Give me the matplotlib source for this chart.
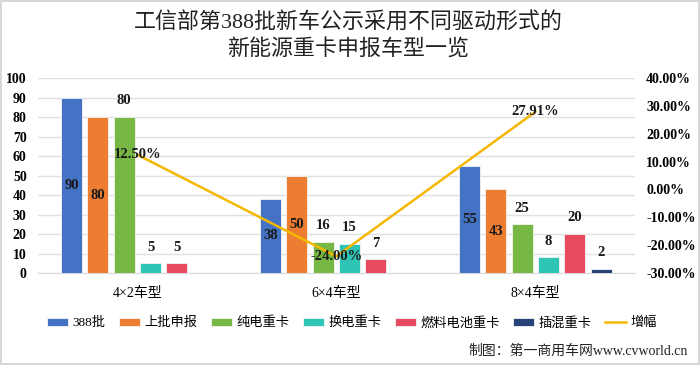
import matplotlib
matplotlib.use("Agg")
import matplotlib.pyplot as plt
import numpy as np
from matplotlib.patches import Patch
from matplotlib.lines import Line2D

plt.rcParams['font.family'] = ['Liberation Serif', 'Noto Sans CJK SC', 'DejaVu Sans']

# data
categories = ['4×2车型', '6×4车型', '8×4车型']
series_names = ['388批', '上批申报', '纯电重卡', '换电重卡', '燃料电池重卡', '插混重卡']
batch_388 = [90, 38, 55]
last_batch = [80, 50, 43]
pure_ev = [80, 16, 25]
swap_ev = [5, 15, 8]
fuel_cell = [5, 7, 20]
plugin_hybrid = [0, 0, 2]
growth = [12.50, -24.00, 27.91]
growth_name = '增幅'

colors = ['#4472C4', '#ED7D31', '#76B843', '#2EC4B6', '#E84A5F', '#264478']
line_color = '#F5B800'
series = [batch_388, last_batch, pure_ev, swap_ev, fuel_cell, plugin_hybrid]

fig = plt.figure(figsize=(7, 3.65), dpi=100)
fig.patch.set_facecolor('white')
ax = fig.add_axes([0.054, 0.252, 0.853, 0.534])

x = np.arange(len(categories))
step = 0.1325
width = 0.106
for k, vals in enumerate(series):
    pos = x + (k - 2.5) * step
    ax.bar(pos, vals, width, color=colors[k], edgecolor='#f4f4f4',
           linewidth=0.6, zorder=3)
    for p, v in zip(pos, vals):
        if v == 0:
            continue
        if k < 2:
            # first two series: value inside the bar
            ax.text(p, v / 2, str(v), ha='center', va='center', fontsize=10.5,
                    fontweight='bold', color='#1a1a1a', zorder=5)
        else:
            ax.text(p, v + 5, str(v), ha='center', va='bottom', fontsize=10.5,
                    fontweight='bold', color='#1a1a1a', zorder=5)

ax.set_xlim(-0.5, 2.5)
ax.set_ylim(0, 100)
ax.set_yticks(range(0, 101, 10))
ax.set_xticks(x)
ax.set_xticklabels(categories, fontsize=10)
ax.tick_params(axis='x', length=0, pad=10)
ax.tick_params(axis='y', length=0, labelsize=10, pad=8)
for t in ax.get_yticklabels():
    t.set_fontweight('bold')
ax.grid(axis='y', color='#e0e0e0', linewidth=1, zorder=0)
for s in ['left', 'right', 'top']:
    ax.spines[s].set_visible(False)
ax.spines['bottom'].set_color('#d9d9d9')

ax2 = ax.twinx()
ax2.plot(x, growth, color=line_color, linewidth=1.8, zorder=4)
ax2.set_ylim(-30, 40)
ax2.set_yticks(range(-30, 41, 10))
ax2.set_yticklabels(['%.2f%%' % t for t in range(-30, 41, 10)], fontweight='bold')
ax2.tick_params(axis='y', length=0, labelsize=10, pad=8)
for s in ['left', 'right', 'top', 'bottom']:
    ax2.spines[s].set_visible(False)
for xi, g in zip(x, growth):
    ax2.text(xi, g, '%.2f%%' % g, ha='center', va='center', fontsize=10.5,
             fontweight='bold', color='#1a1a1a', zorder=6)

# title
fig.text(0.497, 0.938, '工信部第388批新车公示采用不同驱动形式的', ha='center', va='center',
         fontsize=15.8, color='#222222')
fig.text(0.497, 0.862, '新能源重卡申报车型一览', ha='center', va='center',
         fontsize=15.8, color='#222222')

# legend
handles = [Patch(facecolor=c, edgecolor='#f4f4f4', linewidth=0.6) for c in colors]
handles.append(Line2D([0], [0], color=line_color, linewidth=1.8))
labels = series_names + [growth_name]
fig.legend(handles, labels, loc='center', bbox_to_anchor=(0.503, 0.115), ncol=7,
           frameon=False, fontsize=9.5, handlelength=1.6, handleheight=0.6,
           handletextpad=0.35, columnspacing=1.0, borderpad=0.2)

fig.text(0.983, 0.038, '制图：第一商用车网www.cvworld.cn', ha='right', va='center',
         fontsize=10, color='#222222')

# outer border
fig.add_artist(plt.Rectangle((0.001, 0.002), 0.997, 0.996, transform=fig.transFigure,
                             fill=False, edgecolor='#d0d0d0', linewidth=1.2))

fig.savefig('out.png', dpi=100)
